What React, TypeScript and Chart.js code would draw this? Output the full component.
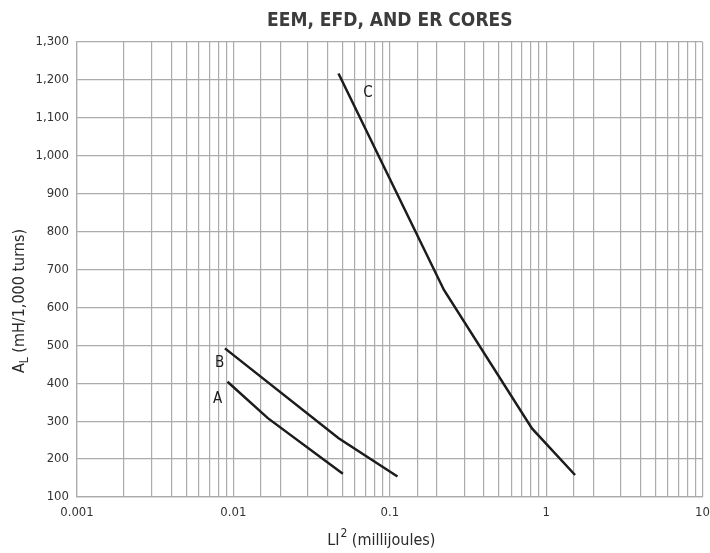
import React, { useEffect, useRef } from "react";
import { Chart, registerables } from "chart.js";

Chart.register(...registerables);

const TITLE = "EEM, EFD, AND ER CORES";
const FONT = "'Liberation Sans Narrow', 'DejaVu Sans Condensed', 'Arial Narrow', sans-serif";

// Curve A
const aX = [0.00917, 0.0166, 0.0501];
const aY = [404, 308, 161];
// Curve B
const bX = [0.00883, 0.0471, 0.112];
const bY = [492, 255, 154];
// Curve C
const cX = [0.047, 0.222, 0.811, 1.53];
const cY = [1217, 646, 281, 158];

// Curve labels
const labelText = ["A", "B", "C"];
const labelX = [0.00794, 0.00818, 0.0726];
const labelY = [359, 454, 1166];

const yMin = 100;
const yMax = 1300;
const yStep = 100;
const xMin = 0.001;
const xMax = 10;

const toPts = (xs: number[], ys: number[]) => xs.map((x, i) => ({ x, y: ys[i] }));

const GRID = "#ababab";
const INK = "#1c1c1c";

export default function App() {
  const ref = useRef<HTMLCanvasElement | null>(null);

  useEffect(() => {
    if (!ref.current) return;

    const decor = {
      id: "decor",
      afterDatasetsDraw(chart: any) {
        const ctx = chart.ctx;
        const xs = chart.scales.x;
        const ys = chart.scales.y;
        const area = chart.chartArea;
        ctx.save();
        // curve labels
        ctx.fillStyle = INK;
        ctx.font = `15px ${FONT}`;
        ctx.textAlign = "center";
        ctx.textBaseline = "middle";
        labelText.forEach((t, i) => {
          ctx.fillText(t, xs.getPixelForValue(labelX[i]), ys.getPixelForValue(labelY[i]));
        });

        // x axis title: LI^2 (millijoules)
        ctx.fillStyle = "#2a2a2a";
        ctx.textBaseline = "alphabetic";
        ctx.textAlign = "left";
        const big = `16px ${FONT}`;
        const small = `12px ${FONT}`;
        const p1 = "LI";
        const p2 = "2";
        const p3 = " (millijoules)";
        ctx.font = big;
        const w1 = ctx.measureText(p1).width;
        const w3 = ctx.measureText(p3).width;
        ctx.font = small;
        const w2 = ctx.measureText(p2).width;
        const total = w1 + w2 + w3;
        const cx = (area.left + area.right) / 2 - 9;
        const x0 = cx - total / 2;
        const by = 545;
        ctx.font = big;
        ctx.fillText(p1, x0, by);
        ctx.font = small;
        ctx.fillText(p2, x0 + w1 + 1, by - 8);
        ctx.font = big;
        ctx.fillText(p3, x0 + w1 + w2 + 1, by);

        // y axis title: A_L (mH/1,000 turns)
        ctx.save();
        ctx.translate(24, 301);
        ctx.rotate(-Math.PI / 2);
        const q1 = "A";
        const q2 = "L";
        const q3 = " (mH/1,000 turns)";
        ctx.font = big;
        const v1 = ctx.measureText(q1).width;
        const v3 = ctx.measureText(q3).width;
        ctx.font = small;
        const v2 = ctx.measureText(q2).width;
        const tot = v1 + v2 + v3;
        const sx = -tot / 2;
        ctx.font = big;
        ctx.fillText(q1, sx, 0);
        ctx.font = small;
        ctx.fillText(q2, sx + v1, 4);
        ctx.font = big;
        ctx.fillText(q3, sx + v1 + v2, 0);
        ctx.restore();

        ctx.restore();
      },
    };

    const ds = (xs: number[], ys: number[]) => ({
      data: toPts(xs, ys),
      borderColor: INK,
      borderWidth: 2.5,
      pointRadius: 0,
      fill: false,
      tension: 0,
    });

    const chart = new Chart(ref.current, {
      type: "line",
      data: {
        datasets: [ds(aX, aY), ds(bX, bY), ds(cX, cY)],
      },
      options: {
        animation: false,
        responsive: true,
        maintainAspectRatio: false,
        layout: { padding: { left: 0, right: 0, top: 0, bottom: 0 } },
        plugins: {
          legend: { display: false },
          tooltip: { enabled: false },
          title: {
            display: true,
            fullSize: false,
            text: TITLE,
            color: "#3c3c3c",
            font: { family: FONT, size: 19, weight: "bold", lineHeight: 1.2 },
            padding: { top: 10, bottom: 9.2 },
          },
        },
        scales: {
          x: {
            type: "logarithmic",
            min: xMin,
            max: xMax,
            grid: { color: GRID, lineWidth: 1.2, drawTicks: false },
            border: { color: GRID, width: 1.2 },
            afterFit: (s: any) => {
              s.height = 56;
            },
            ticks: {
              autoSkip: false,
              maxRotation: 0,
              padding: 8,
              color: "#333",
              font: { family: FONT, size: 13 },
              callback: (v: any) => {
                const val = Number(v);
                const lg = Math.log10(val);
                if (Math.abs(lg - Math.round(lg)) < 1e-6) {
                  return String(Number(val.toPrecision(1)));
                }
                return "";
              },
            },
          },
          y: {
            type: "linear",
            min: yMin,
            max: yMax,
            grid: { color: GRID, lineWidth: 1.2, drawTicks: false },
            border: { color: GRID, width: 1.2 },
            afterFit: (s: any) => {
              s.width = 77;
            },
            ticks: {
              stepSize: yStep,
              padding: 8,
              color: "#333",
              font: { family: FONT, size: 13 },
            },
          },
        },
      },
      plugins: [decor],
    } as any);

    return () => chart.destroy();
  }, []);

  return (
    <div style={{ position: "fixed", left: 0, top: 0, width: 718, height: 553, background: "#fff" }}>
      <canvas ref={ref} />
    </div>
  );
}
